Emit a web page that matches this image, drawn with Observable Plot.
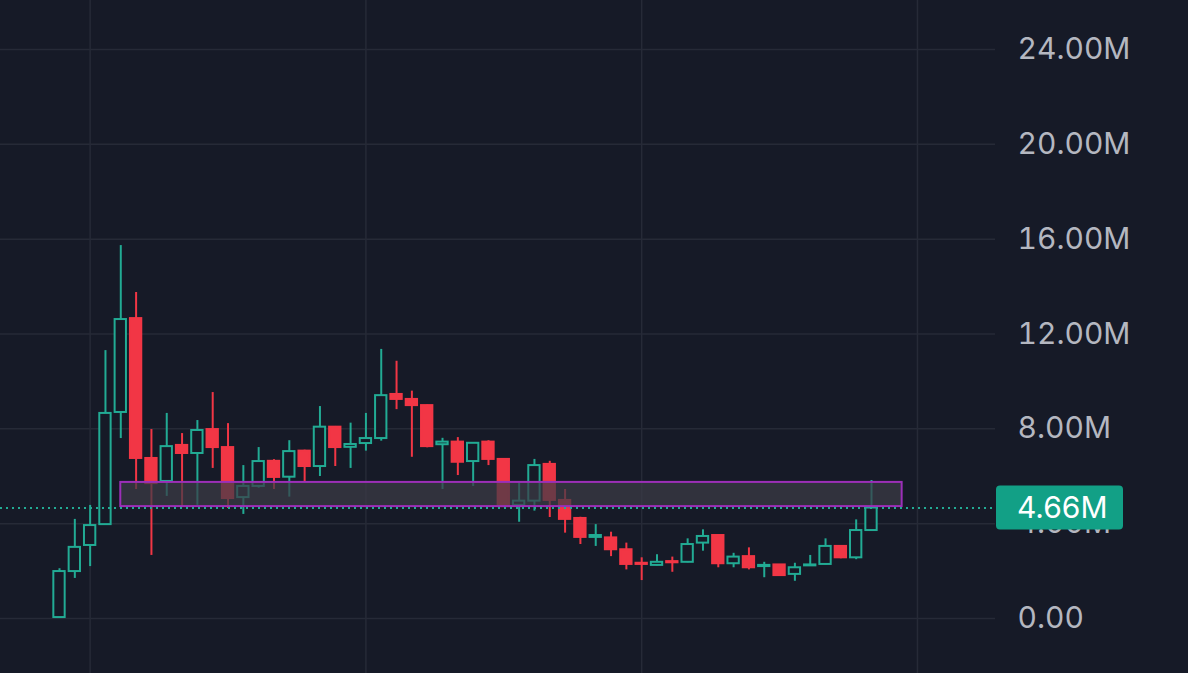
<!DOCTYPE html>
<html>
<head>
<meta charset="utf-8">
<script src="https://cdn.jsdelivr.net/npm/d3@7"></script>
<script src="https://cdn.jsdelivr.net/npm/@observablehq/plot@0.6"></script>
<style>
  html, body { margin: 0; padding: 0; background: #161a27; overflow: hidden; }
</style>
</head>
<body>
<div id="chart"></div>
<script>
// Candle values in millions
const opens  = [0.04,1.98,3.08,3.96,8.69,12.65,6.75,5.78,7.30,6.96,7.97,7.21,5.10,5.57,6.63,5.96,7.06,6.41,8.07,7.22,7.38,7.59,9.45,9.24,8.98,7.33,7.44,6.62,7.44,6.71,4.77,4.95,6.50,4.98,4.22,3.42,3.40,2.90,2.33,2.24,2.40,2.37,3.18,3.50,2.31,2.61,2.19,2.26,1.86,2.22,2.28,3.04,2.56,3.71];
const highs  = [2.10,4.18,4.77,11.30,15.73,13.75,7.97,8.65,7.80,8.35,9.53,8.22,6.45,7.21,6.70,7.50,7.10,8.94,8.10,8.24,8.65,11.35,10.85,9.59,9.00,7.60,7.63,7.40,7.50,6.75,5.71,6.71,6.63,5.44,4.27,3.96,3.64,3.18,2.56,2.69,2.59,3.36,3.74,3.50,2.75,2.98,2.37,2.26,2.33,2.66,3.36,3.08,4.16,5.82];
const lows   = [0.04,1.69,2.19,3.96,7.59,5.44,2.66,5.15,4.68,4.77,6.33,4.64,4.39,5.50,5.44,5.12,5.75,5.99,6.41,6.33,7.06,7.48,8.81,6.80,7.20,5.44,6.03,5.57,6.45,4.68,4.06,4.53,4.26,3.60,3.12,3.04,2.61,2.05,1.60,2.22,1.95,2.35,2.84,2.14,2.14,2.05,1.72,1.80,1.57,2.22,2.26,2.52,2.48,3.71];
const closes = [1.98,3.00,3.92,8.65,12.61,6.75,5.69,7.25,6.96,7.93,7.21,5.06,5.57,6.62,5.95,7.04,6.41,8.07,7.21,7.34,7.59,9.40,9.24,8.98,7.25,7.44,6.59,7.39,6.71,4.72,4.95,6.45,4.98,4.18,3.42,3.50,2.90,2.28,2.28,2.37,2.35,3.12,3.46,2.31,2.59,2.14,2.24,1.81,2.14,2.26,3.04,2.56,3.71,4.66];

const yTicks = [0, 4, 8, 12, 16, 20, 24];
const xGridIndex = [2, 20, 38, 56];
const lastPrice = 4.66;
const lastLabel = "4.66M";
// highlighted zone (candle index range, value range in M)
const zoneX = [4, 55];
const zoneY = [4.72, 5.74];

const UP = "#22ab94", DOWN = "#f23645", BG = "#161a27", GRID = "#262a37";

const candles = opens.map((o, i) => ({
  i, open: o, high: highs[i], low: lows[i], close: closes[i], up: closes[i] >= o
}));
const half = 0.37;

const chart = Plot.plot({
  width: 1188,
  height: 673,
  marginLeft: 0,
  marginRight: 193,
  marginTop: 0,
  marginBottom: 0,
  style: { background: BG, fontFamily: "Inter, 'Noto Sans', sans-serif", fontSize: "30px", color: "#b4b7c0" },
  x: { type: "linear", domain: [0, 53], range: [59, 871], axis: null },
  y: { type: "linear", domain: [0, 24], range: [618, 49] },
  marks: [
    Plot.gridY(yTicks, { stroke: GRID, strokeOpacity: 1, strokeWidth: 1.5 }),
    Plot.ruleX(xGridIndex, { stroke: GRID, strokeOpacity: 1, strokeWidth: 1.5 }),
    // upper wicks
    Plot.ruleX(candles, {
      x: "i", y1: d => Math.max(d.open, d.close), y2: "high",
      stroke: d => d.up ? UP : DOWN, strokeWidth: 2
    }),
    // lower wicks
    Plot.ruleX(candles, {
      x: "i", y1: "low", y2: d => Math.min(d.open, d.close),
      stroke: d => d.up ? UP : DOWN, strokeWidth: 2
    }),
    // bodies
    Plot.rect(candles, {
      x1: d => d.i - half, x2: d => d.i + half, y1: "open", y2: "close",
      fill: d => d.up ? BG : DOWN, stroke: d => d.up ? UP : DOWN, strokeWidth: 2
    }),
    // zone
    Plot.rect([{ x1: zoneX[0], x2: zoneX[1], y1: zoneY[0], y2: zoneY[1] }], {
      x1: "x1", x2: "x2", y1: "y1", y2: "y2",
      fill: "#3b3c47", fillOpacity: 0.72, stroke: "#9c2fb8", strokeWidth: 2
    }),
    // last price line
    Plot.ruleY([lastPrice], { stroke: UP, strokeWidth: 2, strokeDasharray: "2,4" }),
    Plot.axisY(yTicks, {
      anchor: "right", tickSize: 0, tickPadding: 22, textAnchor: "start",
      tickFormat: d => d === 0 ? "0.00" : d.toFixed(2) + "M",
      fill: "#b4b7c0", label: null
    })
  ]
});

document.getElementById("chart").appendChild(chart);

// last-price badge on the axis
const yS = chart.scale("y");
const yPix = yS.apply(lastPrice);
const svg = d3.select(chart);
const g = svg.append("g");
g.append("rect")
  .attr("x", 996).attr("y", yPix - 22).attr("width", 127).attr("height", 44)
  .attr("rx", 4).attr("fill", "#12a086");
g.append("text")
  .attr("x", 1017).attr("y", yPix).attr("dy", "0.35em")
  .attr("text-anchor", "start")
  .attr("fill", "#ffffff").attr("font-size", 30)
  .attr("font-family", "Inter, 'Noto Sans', sans-serif")
  .text(lastLabel);
</script>
</body>
</html>
